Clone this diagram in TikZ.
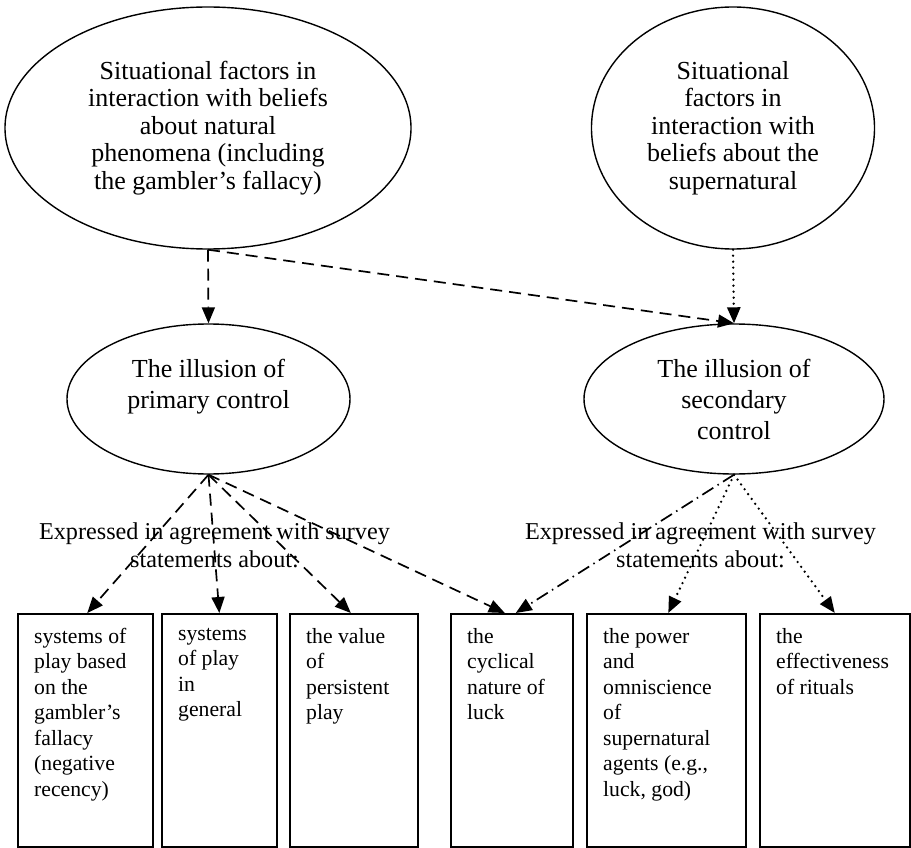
\documentclass[tikz,border=0pt]{standalone}
\usepackage{fontspec}
\setmainfont{Liberation Serif}
\usetikzlibrary{arrows.meta,shapes.geometric}
\begin{document}
\begin{tikzpicture}[x=1pt,y=-1pt,
  ovalA/.style={draw, ellipse, line width=1.4pt, inner sep=0pt, align=center, font=\fontsize{26}{27.6}\selectfont},
  ovalC/.style={draw, ellipse, line width=1.4pt, inner sep=0pt, align=center, font=\fontsize{26}{31}\selectfont},
  boxnode/.style={draw, rectangle, line width=1.6pt, inner sep=0pt, anchor=north west, minimum height=233pt},
  boxtext/.style={anchor=north west, inner sep=0pt, align=left, font=\fontsize{21.7}{25.5}\selectfont},
  lbl/.style={align=center, inner sep=0pt, font=\fontsize{24.2}{28}\selectfont},
  conn/.style={line width=1.7pt, -{Triangle[length=16pt,width=13pt]}},
  dsh/.style={conn, dash pattern=on 12pt off 7pt},
  dtt/.style={conn, line width=2.6pt, line cap=round, dash pattern=on 0pt off 6pt},
  dshdot/.style={conn, dash pattern=on 13pt off 5pt on 1.5pt off 5pt},
]
\useasboundingbox (0,0) rectangle (911,848);

% ellipses
\node[ovalA, minimum width=406pt, minimum height=242pt] (A) at (208,128)
  {Situational factors in\\interaction with beliefs\\about natural\\phenomena (including\\the gambler’s fallacy)};
\node[ovalA, minimum width=283pt, minimum height=242pt] (B) at (733,128)
  {Situational\\factors in\\interaction with\\beliefs about the\\supernatural};
\node[ovalC, minimum width=283pt, minimum height=150pt] (C) at (208.5,399)
  {The illusion of\\primary control\\\mbox{}};
\node[ovalC, minimum width=300pt, minimum height=150pt] (D) at (734,399)
  {The illusion of\\secondary\\control};

% boxes
\node[boxnode, minimum width=135pt] (b1) at (17,613) {};
\node[boxnode, minimum width=115pt] (b2) at (161,613) {};
\node[boxnode, minimum width=128pt] (b3) at (289,613) {};
\node[boxnode, minimum width=122pt] (b4) at (450,613) {};
\node[boxnode, minimum width=159pt] (b5) at (586,613) {};
\node[boxnode, minimum width=150pt] (b6) at (759,613) {};

\node[boxtext] (t1) at (34,628) {systems of\\play based\\on the\\gambler’s\\fallacy\\(negative\\recency)};
\node[boxtext] (t2) at (178,628) {systems\\of play\\in\\general};
\node[boxtext] (t3) at (306,628) {the value\\of\\persistent\\play};
\node[boxtext] (t4) at (467,628) {the\\cyclical\\nature of\\luck};
\node[boxtext] (t5) at (603,628) {the power\\and\\omniscience\\of\\supernatural\\agents (e.g.,\\luck, god)};
\node[boxtext] (t6) at (776,628) {the\\effectiveness\\of rituals};

% connectors
\draw[dsh] (A.south) -- (C.north);
\draw[dsh] (A.south) -- (D.north);
\draw[dtt] (B.south) -- (D.north);

\draw[dsh] (C.south) -- ([xshift=2pt]b1.north);
\draw[dsh] (C.south) -- (b2.north);
\draw[dsh] (C.south) -- ([xshift=-3pt]b3.north);
\draw[dsh] (C.south) -- ([xshift=-7pt]b4.north);
\draw[dshdot] (D.south) -- ([xshift=4pt]b4.north);
\draw[dtt] (D.south) -- ([xshift=2pt]b5.north);
\draw[dtt] (D.south) -- (b6.north);

% labels
\node[lbl] (L1) at (214.5,545) {Expressed in agreement with survey\\statements about:};
\node[lbl] (L2) at (700.5,545) {Expressed in agreement with survey\\statements about:};
\end{tikzpicture}
\end{document}
